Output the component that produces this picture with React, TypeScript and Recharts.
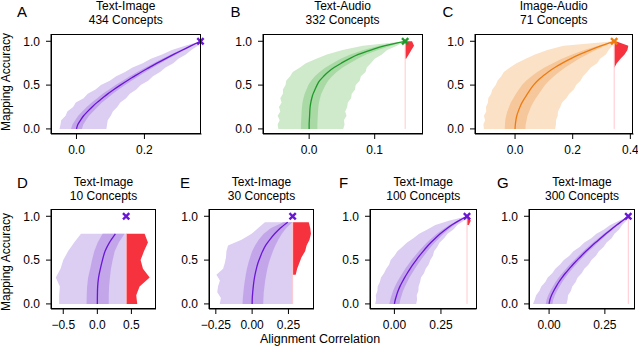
import React from 'react'
import {
  ComposedChart,
  Area,
  Line,
  XAxis,
  YAxis,
  ReferenceLine,
  ReferenceDot,
} from 'recharts'

const FONT = '"Liberation Sans", Arial, Helvetica, sans-serif'

// mapping accuracy levels
const Y_FULL = [0, 0.05, 0.1, 0.15, 0.2, 0.25, 0.3, 0.35, 0.4, 0.45, 0.5, 0.55, 0.6, 0.65, 0.7, 0.75, 0.8, 0.85, 0.9, 0.95, 1.0]
const Y_10 = [0, 0.1, 0.2, 0.3, 0.4, 0.5, 0.6, 0.7, 0.8]
const Y_30 = [0, 0.067, 0.133, 0.2, 0.267, 0.333, 0.4, 0.467, 0.533, 0.6, 0.667, 0.733, 0.8, 0.867, 0.933]

const Y_TICKS = [0, 0.5, 1.0]
const Y_DOMAIN: [number, number] = [-0.058, 1.083]

// A: Text-Image, 434 concepts
const A_ALIGN = 0.365
const A_MED = [0, 0.004, 0.012, 0.021, 0.033, 0.046, 0.060, 0.076, 0.092, 0.110, 0.129, 0.149, 0.170, 0.191, 0.214, 0.237, 0.261, 0.286, 0.312, 0.338, 0.365]
const A_IN_LO = [-0.016, -0.012, -0.004, 0.005, 0.017, 0.030, 0.045, 0.061, 0.077, 0.096, 0.115, 0.136, 0.157, 0.179, 0.203, 0.227, 0.252, 0.278, 0.306, 0.334, 0.365]
const A_IN_HI = [0.016, 0.020, 0.028, 0.037, 0.049, 0.062, 0.075, 0.091, 0.107, 0.124, 0.143, 0.162, 0.183, 0.203, 0.225, 0.247, 0.270, 0.294, 0.318, 0.342, 0.365]
const A_OUT_LO = [-0.050, -0.047, -0.045, -0.032, -0.027, -0.010, -0.002, 0.021, 0.033, 0.056, 0.072, 0.098, 0.117, 0.143, 0.165, 0.195, 0.219, 0.252, 0.281, 0.320, 0.365]
const A_OUT_HI = [0.088, 0.090, 0.092, 0.101, 0.107, 0.120, 0.129, 0.146, 0.157, 0.176, 0.189, 0.211, 0.225, 0.246, 0.262, 0.285, 0.300, 0.322, 0.338, 0.357, 0.365]

// B: Text-Audio, 332 concepts
const B_ALIGN = 0.1465
const B_MED = [0, 0, 0.0003, 0.0007, 0.001, 0.0015, 0.0025, 0.004, 0.006, 0.009, 0.012, 0.016, 0.022, 0.029, 0.038, 0.049, 0.061, 0.075, 0.094, 0.116, 0.1465]
const B_IN_LO = [-0.0125, -0.0125, -0.0122, -0.0118, -0.0115, -0.011, -0.0101, -0.0087, -0.0068, -0.004, -0.0012, 0.003, 0.0088, 0.016, 0.025, 0.036, 0.048, 0.063, 0.083, 0.107, 0.1465]
const B_IN_HI = [0.0125, 0.0125, 0.0128, 0.0132, 0.0135, 0.014, 0.015, 0.0165, 0.0185, 0.0215, 0.025, 0.029, 0.035, 0.042, 0.051, 0.062, 0.074, 0.087, 0.105, 0.125, 0.1465]
const B_OUT_LO = [-0.047, -0.048, -0.045, -0.048, -0.044, -0.046, -0.042, -0.044, -0.040, -0.040, -0.036, -0.035, -0.029, -0.025, -0.014, -0.005, 0.011, 0.027, 0.051, 0.082, 0.1465]
const B_OUT_HI = [0.052, 0.054, 0.053, 0.057, 0.055, 0.058, 0.059, 0.064, 0.065, 0.070, 0.071, 0.077, 0.079, 0.086, 0.088, 0.094, 0.100, 0.111, 0.119, 0.134, 0.1465]
const B_RED = [null, null, null, null, null, null, null, null, null, null, null, null, null, null, null, null, 0.148, 0.152, 0.156, 0.160, 0.157]

// C: Image-Audio, 71 concepts
const C_ALIGN = 0.344
const C_MED = [0, 0.001, 0.003, 0.006, 0.011, 0.017, 0.024, 0.033, 0.043, 0.053, 0.064, 0.078, 0.096, 0.115, 0.138, 0.164, 0.192, 0.224, 0.260, 0.300, 0.344]
const C_IN_LO = [-0.036, -0.035, -0.034, -0.031, -0.027, -0.021, -0.015, -0.006, 0.003, 0.013, 0.024, 0.038, 0.057, 0.077, 0.102, 0.131, 0.162, 0.198, 0.240, 0.288, 0.344]
const C_IN_HI = [0.036, 0.037, 0.040, 0.043, 0.049, 0.055, 0.063, 0.072, 0.083, 0.093, 0.104, 0.118, 0.135, 0.153, 0.174, 0.197, 0.222, 0.250, 0.280, 0.312, 0.344]
const C_OUT_LO = [-0.108, -0.110, -0.104, -0.108, -0.100, -0.101, -0.094, -0.093, -0.083, -0.079, -0.067, -0.061, -0.048, -0.039, -0.018, 0.005, 0.037, 0.069, 0.112, 0.168, 0.344]
const C_OUT_HI = [0.139, 0.142, 0.142, 0.148, 0.149, 0.157, 0.163, 0.178, 0.188, 0.204, 0.212, 0.227, 0.236, 0.250, 0.263, 0.285, 0.295, 0.315, 0.325, 0.337, 0.344]
const C_RED = [null, null, null, null, null, null, null, null, null, null, null, null, null, null, 0.345, 0.353, 0.366, 0.380, 0.390, 0.393, 0.350]

// D: Text-Image, 10 concepts
const D_ALIGN = 0.423
const D_MED = [0, 0.001, 0.005, 0.018, 0.044, 0.075, 0.113, 0.177, 0.265]
const D_IN_LO = [-0.158, -0.156, -0.150, -0.135, -0.105, -0.078, -0.045, 0.005, 0.078]
const D_IN_HI = [0.167, 0.168, 0.172, 0.185, 0.200, 0.225, 0.255, 0.315, 0.400]
const D_OUT_LO = [-0.56, -0.56, -0.55, -0.61, -0.54, -0.50, -0.43, -0.34, -0.24]
const D_OUT_HI = [0.423, 0.423, 0.423, 0.423, 0.423, 0.423, 0.423, 0.423, 0.423]
const D_RED = [0.586, 0.571, 0.620, 0.768, 0.670, 0.635, 0.684, 0.743, 0.694]

// E: Text-Image, 30 concepts
const E_ALIGN = 0.279
const E_MED = [0, 0.001, 0.004, 0.008, 0.013, 0.020, 0.029, 0.040, 0.055, 0.072, 0.093, 0.122, 0.155, 0.195, 0.245]
const E_IN_LO = [-0.066, -0.064, -0.060, -0.056, -0.050, -0.044, -0.036, -0.026, -0.014, 0.000, 0.020, 0.045, 0.080, 0.130, 0.215]
const E_IN_HI = [0.076, 0.078, 0.080, 0.085, 0.090, 0.097, 0.105, 0.115, 0.128, 0.143, 0.160, 0.180, 0.205, 0.235, 0.277]
const E_OUT_LO = [-0.223, -0.215, -0.240, -0.235, -0.222, -0.246, -0.200, -0.188, -0.180, -0.177, -0.166, -0.073, -0.004, 0.042, 0.088]
const E_OUT_HI = [0.279, 0.279, 0.279, 0.279, 0.279, 0.279, 0.279, 0.279, 0.279, 0.279, 0.279, 0.279, 0.279, 0.279, 0.279]
const E_RED = [null, null, null, null, null, 0.300, 0.310, 0.325, 0.340, 0.365, 0.375, 0.395, 0.405, 0.400, 0.390]

// F: Text-Image, 100 concepts
const F_ALIGN = 0.39
const F_MED = [0, 0.005, 0.012, 0.020, 0.030, 0.042, 0.055, 0.069, 0.084, 0.100, 0.117, 0.135, 0.154, 0.174, 0.196, 0.220, 0.246, 0.275, 0.308, 0.347, 0.390]
const F_IN_LO = [-0.027, -0.022, -0.015, -0.007, 0.003, 0.015, 0.029, 0.043, 0.058, 0.075, 0.092, 0.111, 0.131, 0.152, 0.175, 0.200, 0.228, 0.259, 0.295, 0.338, 0.390]
const F_IN_HI = [0.027, 0.032, 0.039, 0.047, 0.057, 0.069, 0.081, 0.095, 0.110, 0.125, 0.142, 0.159, 0.177, 0.196, 0.217, 0.240, 0.264, 0.291, 0.321, 0.356, 0.390]
const F_OUT_LO = [-0.103, -0.098, -0.100, -0.091, -0.090, -0.078, -0.072, -0.056, -0.044, -0.028, -0.020, 0.000, 0.016, 0.042, 0.068, 0.102, 0.133, 0.177, 0.220, 0.292, 0.390]
const F_OUT_HI = [0.117, 0.122, 0.120, 0.129, 0.130, 0.138, 0.143, 0.159, 0.168, 0.184, 0.193, 0.207, 0.213, 0.230, 0.243, 0.267, 0.285, 0.317, 0.338, 0.373, 0.390]
const F_RED = [null, null, null, null, null, null, null, null, null, null, null, null, null, null, null, null, null, null, 0.400, 0.410, 0.400]

// G: Text-Image, 300 concepts
const G_ALIGN = 0.355
const G_MED = [0, 0.004, 0.011, 0.021, 0.032, 0.044, 0.058, 0.073, 0.090, 0.107, 0.126, 0.145, 0.165, 0.186, 0.208, 0.231, 0.254, 0.278, 0.303, 0.329, 0.355]
const G_IN_LO = [-0.015, -0.011, -0.004, 0.006, 0.017, 0.029, 0.043, 0.059, 0.076, 0.093, 0.113, 0.132, 0.153, 0.174, 0.197, 0.221, 0.245, 0.270, 0.297, 0.325, 0.355]
const G_IN_HI = [0.015, 0.019, 0.026, 0.036, 0.047, 0.059, 0.073, 0.087, 0.104, 0.121, 0.139, 0.158, 0.177, 0.198, 0.219, 0.241, 0.263, 0.286, 0.309, 0.333, 0.355]
const G_OUT_LO = [-0.072, -0.064, -0.058, -0.043, -0.035, -0.017, -0.006, 0.014, 0.028, 0.049, 0.066, 0.091, 0.109, 0.137, 0.158, 0.189, 0.212, 0.246, 0.274, 0.313, 0.355]
const G_OUT_HI = [0.078, 0.083, 0.085, 0.098, 0.104, 0.119, 0.128, 0.146, 0.158, 0.177, 0.190, 0.210, 0.223, 0.244, 0.258, 0.280, 0.293, 0.314, 0.327, 0.346, 0.355]

const PURPLE = { outer: '#dccdf2', inner: '#c3a6ea', line: '#6a16d6' }
const GREEN = { outer: '#cfe9cb', inner: '#a9d9a5', line: '#1f9a2a' }
const ORANGE = { outer: '#fbe2c6', inner: '#f6c79a', line: '#ec7c12' }
const RED = '#f6323f'
const PINK = '#ffc9d0'

function rows(
  y: number[],
  med: number[],
  inLo: number[],
  inHi: number[],
  outLo: number[],
  outHi: number[],
  red: (number | null)[] | null,
  align: number,
) {
  return y.map((v, i) => ({
    y: v,
    med: med[i],
    inner: [inLo[i], inHi[i]],
    outer: [outLo[i], outHi[i]],
    red: red && red[i] != null ? [align, red[i]] : null,
  }))
}

const f1 = (v: number) => (v < 0 ? '\u2212' + Math.abs(v).toFixed(1) : v.toFixed(1))
const f2 = (v: number) => (v < 0 ? '\u2212' + Math.abs(v).toFixed(2) : v.toFixed(2))

const PANELS = [
  {
    letter: 'A', title: ['Text-Image', '434 Concepts'], box: [50.5, 33.5, 201, 133.5], xDomain: [-0.075, 0.368], xTicks: [0, 0.2], fmt: f1,
    colors: PURPLE, align: A_ALIGN, top: 1,
    data: rows(Y_FULL, A_MED, A_IN_LO, A_IN_HI, A_OUT_LO, A_OUT_HI, null, A_ALIGN),
  },
  {
    letter: 'B', title: ['Text-Audio', '332 Concepts'], box: [262.5, 33.5, 422.5, 133.5], xDomain: [-0.0704, 0.1737], xTicks: [0, 0.1], fmt: f1,
    colors: GREEN, align: B_ALIGN, top: 1,
    data: rows(Y_FULL, B_MED, B_IN_LO, B_IN_HI, B_OUT_LO, B_OUT_HI, B_RED, B_ALIGN),
  },
  {
    letter: 'C', title: ['Image-Audio', '71 Concepts'], box: [474.5, 33.5, 633, 133.5], xDomain: [-0.139, 0.411], xTicks: [0, 0.2, 0.4], fmt: f1,
    colors: ORANGE, align: C_ALIGN, top: 1,
    data: rows(Y_FULL, C_MED, C_IN_LO, C_IN_HI, C_OUT_LO, C_OUT_HI, C_RED, C_ALIGN),
  },
  {
    letter: 'D', title: ['Text-Image', '10 Concepts'], box: [51, 209.3, 156, 309.3], xDomain: [-0.68, 0.861], xTicks: [-0.5, 0, 0.5], fmt: f1,
    colors: PURPLE, align: D_ALIGN, top: 0.8,
    data: rows(Y_10, D_MED, D_IN_LO, D_IN_HI, D_OUT_LO, D_OUT_HI, D_RED, D_ALIGN),
  },
  {
    letter: 'E', title: ['Text-Image', '30 Concepts'], box: [209, 209.3, 314, 309.3], xDomain: [-0.297, 0.426], xTicks: [-0.25, 0, 0.25], fmt: f2,
    colors: PURPLE, align: E_ALIGN, top: 0.933,
    data: rows(Y_30, E_MED, E_IN_LO, E_IN_HI, E_OUT_LO, E_OUT_HI, E_RED, E_ALIGN),
  },
  {
    letter: 'F', title: ['Text-Image', '100 Concepts'], box: [370, 209.3, 476.5, 309.3], xDomain: [-0.131, 0.441], xTicks: [0, 0.25], fmt: f2,
    colors: PURPLE, align: F_ALIGN, top: 1,
    data: rows(Y_FULL, F_MED, F_IN_LO, F_IN_HI, F_OUT_LO, F_OUT_HI, F_RED, F_ALIGN),
  },
  {
    letter: 'G', title: ['Text-Image', '300 Concepts'], box: [529, 209.3, 635, 309.3], xDomain: [-0.09, 0.385], xTicks: [0, 0.25], fmt: f2,
    colors: PURPLE, align: G_ALIGN, top: 1,
    data: rows(Y_FULL, G_MED, G_IN_LO, G_IN_HI, G_OUT_LO, G_OUT_HI, null, G_ALIGN),
  },
]

const LETTER_X: Record<string, number> = { A: 17, B: 230.5, C: 442.5, D: 17, E: 180, F: 339, G: 497 }

const TICK = { fill: '#000', fontSize: 12, fontFamily: FONT }

function XMark({ cx, cy, color }: { cx?: number; cy?: number; color: string }) {
  if (cx == null || cy == null) return null
  const s = 2.3
  return (
    <path
      d={`M${cx - s},${cy - s}L${cx + s},${cy + s}M${cx - s},${cy + s}L${cx + s},${cy - s}`}
      stroke={color}
      strokeWidth={2.4}
      strokeLinecap="square"
    />
  )
}

function Panel({ p }: { p: (typeof PANELS)[number] }) {
  const [l, t, r, b] = p.box
  const w = r - l
  const h = b - t
  const rowTop = t < 100 ? -1 : 174.5
  return (
    <>
      <div style={{ position: 'absolute', left: l - 45, top: t - 5 }}>
        <ComposedChart
          layout="vertical"
          width={w + 50}
          height={h + 30}
          data={p.data}
          margin={{ top: 5, right: 5, left: 0, bottom: 0 }}
        >
          <XAxis
            type="number"
            domain={p.xDomain}
            ticks={p.xTicks}
            allowDataOverflow
            interval={0}
            height={25}
            tickSize={5}
            tickMargin={6}
            tickFormatter={p.fmt}
            stroke="#000"
            tick={TICK}
          />
          <YAxis
            type="number"
            dataKey="y"
            domain={Y_DOMAIN}
            ticks={Y_TICKS}
            reversed
            allowDataOverflow
            interval={0}
            width={45}
            tickSize={5}
            tickMargin={6}
            tickFormatter={f1}
            stroke="#000"
            tick={TICK}
          />
          <Area dataKey="outer" type="linear" fill={p.colors.outer} fillOpacity={1} stroke="none" isAnimationActive={false} />
          <Area dataKey="inner" type="linear" fill={p.colors.inner} fillOpacity={1} stroke="none" isAnimationActive={false} />
          <Area dataKey="red" type="linear" fill={RED} fillOpacity={1} stroke="none" isAnimationActive={false} />
          <ReferenceLine segment={[{ x: p.align, y: 0 }, { x: p.align, y: p.top }]} stroke={PINK} strokeWidth={1} />
          <Line dataKey="med" type="monotone" stroke={p.colors.line} strokeWidth={1.3} dot={false} isAnimationActive={false} />
          <ReferenceDot x={p.align} y={1} shape={(props: any) => <XMark cx={props.cx} cy={props.cy} color={p.colors.line} />} />
        </ComposedChart>
      </div>
      {/* top and right spines */}
      <div
        style={{
          position: 'absolute',
          left: l,
          top: t,
          width: w,
          height: h,
          boxSizing: 'border-box',
          border: '1px solid #000',
          pointerEvents: 'none',
        }}
      />
      <div
        style={{
          position: 'absolute',
          left: (l + r) / 2 - 60,
          top: rowTop,
          width: 120,
          textAlign: 'center',
          fontSize: 12,
          lineHeight: '14px',
        }}
      >
        {p.title[0]}
        <br />
        {p.title[1]}
      </div>
      <div
        style={{
          position: 'absolute',
          left: LETTER_X[p.letter],
          top: t < 100 ? 4 : 175,
          fontSize: 15,
          lineHeight: '15px',
        }}
      >
        {p.letter}
      </div>
    </>
  )
}

export default function App() {
  return (
    <div
      style={{
        position: 'absolute',
        left: 0,
        top: 0,
        width: 640,
        height: 347,
        background: '#fff',
        fontFamily: FONT,
        color: '#000',
        overflow: 'hidden',
      }}
    >
      {PANELS.map((p) => (
        <Panel key={p.letter} p={p} />
      ))}
      {[81.5, 261.5].map((cy) => (
        <div
          key={cy}
          style={{
            position: 'absolute',
            left: 5.5 - 60,
            top: cy - 7,
            width: 120,
            lineHeight: '14px',
            fontSize: 12,
            textAlign: 'center',
            transform: 'rotate(-90deg)',
          }}
        >
          Mapping Accuracy
        </div>
      ))}
      <div
        style={{
          position: 'absolute',
          left: 320 - 100,
          top: 332,
          width: 200,
          lineHeight: '14px',
          fontSize: 12.5,
          textAlign: 'center',
        }}
      >
        Alignment Correlation
      </div>
    </div>
  )
}
